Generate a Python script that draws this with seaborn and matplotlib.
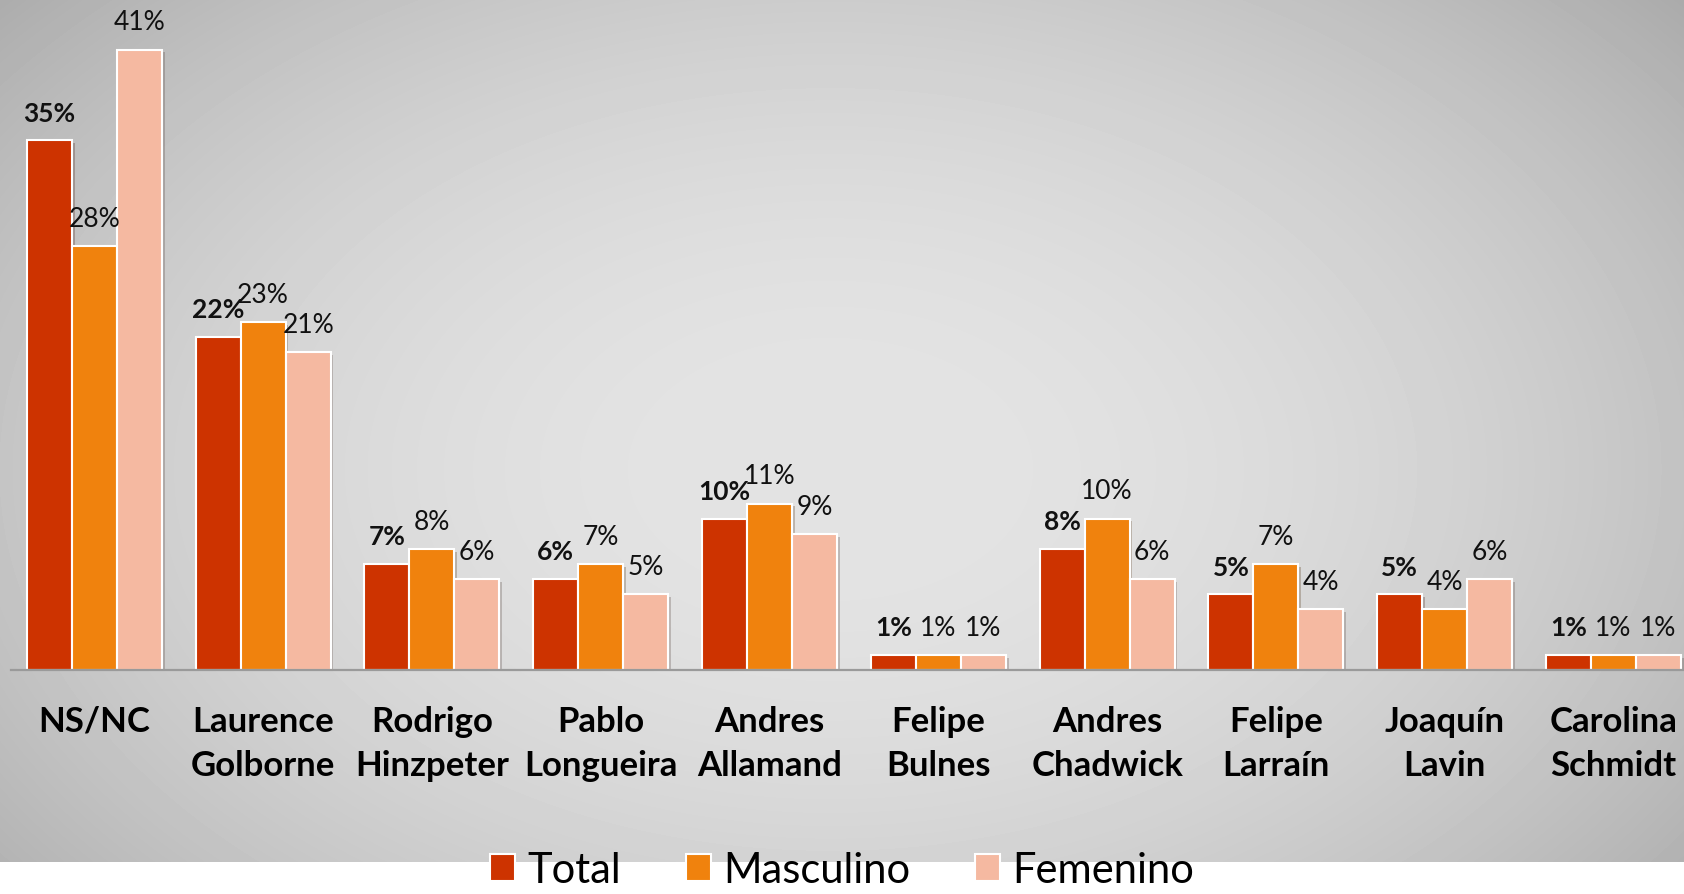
import matplotlib
matplotlib.use("Agg")
import matplotlib.pyplot as plt
import matplotlib.patheffects as pe
import numpy as np
import pandas as pd
import seaborn as sns

candidates = ["NS/NC", "Laurence\nGolborne", "Rodrigo\nHinzpeter", "Pablo\nLongueira",
              "Andres\nAllamand", "Felipe\nBulnes", "Andres\nChadwick", "Felipe\nLarraín",
              "Joaquín\nLavin", "Carolina\nSchmidt"]
total = [35, 22, 7, 6, 10, 1, 8, 5, 5, 1]
masculino = [28, 23, 8, 7, 11, 1, 10, 7, 4, 1]
femenino = [41, 21, 6, 5, 9, 1, 6, 4, 6, 1]
series = ["Total", "Masculino", "Femenino"]
colors = ["#CD3300", "#F0820D", "#F5B9A1"]

df = pd.DataFrame({"candidato": candidates * 3,
                   "serie": np.repeat(series, len(candidates)),
                   "valor": total + masculino + femenino})

plt.rcParams['font.family'] = ['Lato', 'DejaVu Sans']

W, H = 1684, 895
fig = plt.figure(figsize=(W / 100, H / 100), dpi=100)
fig.patch.set_facecolor("white")

# grey radial background (white strip at the very bottom)
bg = fig.add_axes([0, 32 / H, 1, 863 / H], zorder=-5)
yy, xx = np.mgrid[0:863, 0:W]
r2 = ((xx - 830) / 1000.0) ** 2 + ((yy - 470) / 650.0) ** 2
shade = np.clip(228 - 46 * r2, 160, 230) / 255.0
bg.imshow(shade, cmap="gray", vmin=0, vmax=1, aspect="auto", extent=(0, 1, 0, 1))
bg.axis("off")

ax = fig.add_axes([11 / W, 1 - 671 / H, 1 - 11 / W, 671 / H])
ax.set_facecolor("none")

sns.barplot(data=df, x="candidato", y="valor", hue="serie", hue_order=series,
            palette=colors, width=0.8, edgecolor="white", linewidth=1.5,
            saturation=1, ax=ax)

for bar in ax.patches:
    bar.set_path_effects([pe.SimplePatchShadow(offset=(2, -2), alpha=0.25), pe.Normal()])

for i, cont in enumerate(ax.containers):
    for bar in cont:
        h = bar.get_height()
        ax.annotate(f"{h:.0f}%", (bar.get_x() + bar.get_width() / 2, h),
                    xytext=(0, 20), textcoords="offset points",
                    ha="center", va="center", fontsize=19,
                    fontweight="bold" if i == 0 else "normal", color="#111111")

ax.set_xlim(-0.494, 9.418)
ax.set_ylim(0, 44.35)
ax.set_xlabel("")
ax.set_ylabel("")
ax.set_yticks([])
for s in ["top", "right", "left"]:
    ax.spines[s].set_visible(False)
ax.spines["bottom"].set_color("#9a9a9a")
ax.spines["bottom"].set_linewidth(1.6)
ax.tick_params(axis="x", length=0, pad=25)
for lab in ax.get_xticklabels():
    lab.set_fontweight("bold")
    lab.set_fontsize(25)
    lab.set_linespacing(1.47)
    lab.set_color("black")

sns.move_legend(ax, "center", bbox_to_anchor=(0.5, 24 / H), bbox_transform=fig.transFigure,
                ncol=3, frameon=False, title=None, fontsize=30,
                handlelength=0.6, handleheight=0.6, handletextpad=0.3, columnspacing=1.55)

fig.savefig("out.png", dpi=100)
